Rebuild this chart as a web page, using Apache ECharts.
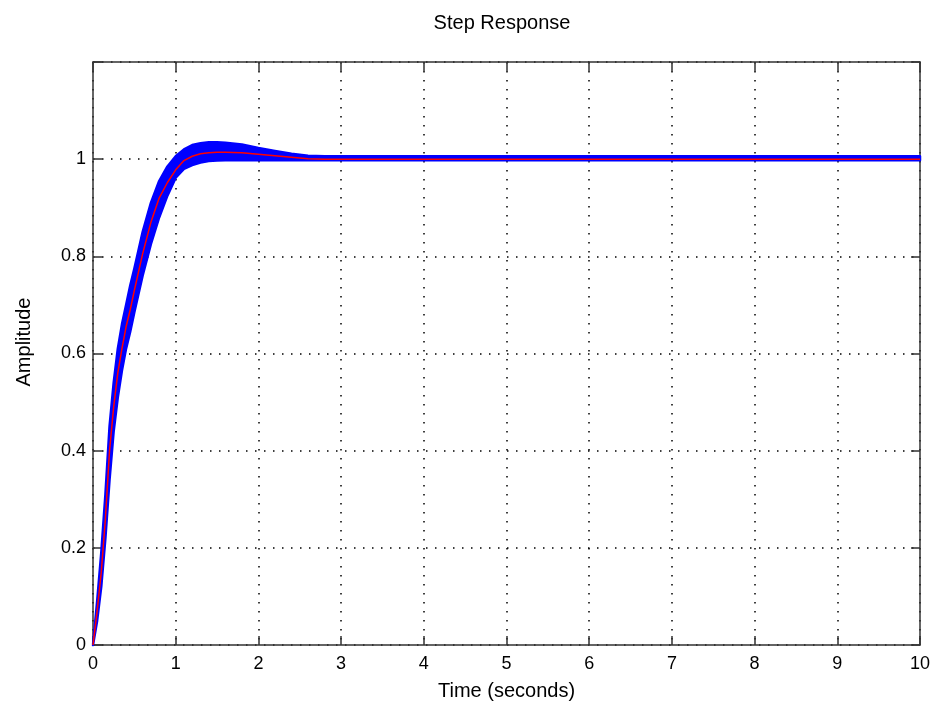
<!DOCTYPE html>
<html>
<head>
<meta charset="utf-8">
<script src="https://cdn.jsdelivr.net/npm/echarts@6/dist/echarts.min.js"></script>
<style>
html,body{margin:0;padding:0;background:#fff;}
#chart{width:935px;height:706px;}
</style>
</head>
<body>
<div id="chart"></div>
<script>
// Time samples (seconds)
var timeSec = [0, 0.05, 0.1, 0.15, 0.2, 0.25, 0.3, 0.35, 0.4, 0.45, 0.5, 0.6, 0.7, 0.8, 0.9, 1.0, 1.1, 1.2, 1.3, 1.4, 1.5, 1.6, 1.8, 2.0, 2.2, 2.4, 2.6, 2.8, 3.0, 4, 5, 6, 7, 8, 9, 10];
// Nominal response (red)
var nominal = [0, 0.07, 0.15, 0.26, 0.40, 0.49, 0.56, 0.61, 0.655, 0.69, 0.73, 0.805, 0.87, 0.92, 0.952, 0.978, 0.997, 1.006, 1.011, 1.013, 1.014, 1.014, 1.013, 1.010, 1.007, 1.004, 1.001, 1.0, 1.0, 1.0, 1.0, 1.0, 1.0, 1.0, 1.0, 1.0];
// Upper envelope of blue family
var upperEnv = [0, 0.09, 0.19, 0.31, 0.45, 0.54, 0.61, 0.66, 0.70, 0.74, 0.775, 0.85, 0.91, 0.955, 0.985, 1.006, 1.020, 1.029, 1.033, 1.035, 1.035, 1.034, 1.030, 1.023, 1.017, 1.011, 1.007, 1.006, 1.006, 1.006, 1.006, 1.006, 1.006, 1.006, 1.006, 1.006];
// Lower envelope of blue family
var lowerEnv = [0, 0.05, 0.12, 0.22, 0.34, 0.44, 0.51, 0.565, 0.61, 0.645, 0.685, 0.76, 0.825, 0.88, 0.925, 0.962, 0.980, 0.988, 0.993, 0.996, 0.997, 0.998, 0.998, 0.998, 0.998, 0.998, 0.998, 0.998, 0.998, 0.998, 0.998, 0.998, 0.998, 0.998, 0.998, 0.998];
// Tick settings
var xTicks = {min: 0, max: 10, step: 1};
var yTicks = {min: 0, max: 1.2, step: 0.2};

function pairs(ys) { return timeSec.map(function (t, i) { return [t, ys[i]]; }); }

var chart = echarts.init(document.getElementById('chart'), null, {renderer: 'canvas'});
var FONT = '"Liberation Sans", Arial, sans-serif';
var axisLineStyle = {color: '#333', width: 1.5};
var gridLine = {show: true, lineStyle: {color: '#000', width: 1.5, type: [1.5, 7.5]}};

chart.setOption({
  backgroundColor: '#ffffff',
  animation: false,
  title: {
    text: 'Step Response', left: 497, top: 8, textAlign: 'center',
    textStyle: {fontFamily: FONT, fontSize: 20, fontWeight: 'normal', color: '#000'}
  },
  grid: {left: 93, right: 15, top: 62, bottom: 58, show: false},
  graphic: [{
    type: 'text', x: 24, y: 342, rotation: Math.PI / 2,
    style: {text: 'Amplitude', fontFamily: FONT, fontSize: 20, fill: '#000', textAlign: 'center', textVerticalAlign: 'middle'}
  }],
  xAxis: [{
    type: 'value', min: xTicks.min, max: xTicks.max, interval: xTicks.step,
    name: 'Time (seconds)', nameLocation: 'middle', nameGap: 36,
    nameTextStyle: {fontFamily: FONT, fontSize: 20, color: '#000'},
    axisLine: {show: true, onZero: false, lineStyle: axisLineStyle},
    axisTick: {show: true, inside: true, length: 9, lineStyle: axisLineStyle},
    axisLabel: {fontFamily: FONT, fontSize: 18, color: '#000', margin: 10},
    splitLine: gridLine
  }, {
    type: 'value', position: 'top', min: xTicks.min, max: xTicks.max, interval: xTicks.step,
    axisLine: {show: true, onZero: false, lineStyle: axisLineStyle},
    axisTick: {show: true, inside: true, length: 9, lineStyle: axisLineStyle},
    axisLabel: {show: false}, splitLine: {show: false}
  }],
  yAxis: [{
    type: 'value', min: yTicks.min, max: yTicks.max, interval: yTicks.step,
    axisLine: {show: true, onZero: false, lineStyle: axisLineStyle},
    axisTick: {show: true, inside: true, length: 9, lineStyle: axisLineStyle},
    axisLabel: {
      fontFamily: FONT, fontSize: 18, color: '#000', margin: 7,
      formatter: function (v) { return Math.abs(v - 1.2) < 1e-9 ? '' : String(+v.toFixed(1)); }
    },
    splitLine: gridLine
  }, {
    type: 'value', position: 'right', min: yTicks.min, max: yTicks.max, interval: yTicks.step,
    axisLine: {show: true, onZero: false, lineStyle: axisLineStyle},
    axisTick: {show: true, inside: true, length: 9, lineStyle: axisLineStyle},
    axisLabel: {show: false}, splitLine: {show: false}
  }],
  series: [
    {
      type: 'custom', name: 'band', data: [[0, 0]], z: 2,
      renderItem: function (params, api) {
        var pts = [];
        for (var i = 0; i < timeSec.length; i++) pts.push(api.coord([timeSec[i], upperEnv[i]]));
        for (var j = timeSec.length - 1; j >= 0; j--) pts.push(api.coord([timeSec[j], lowerEnv[j]]));
        return {type: 'polygon', shape: {points: pts}, style: {fill: '#0000ff', stroke: '#0000ff', lineWidth: 2.5, lineJoin: 'round'}};
      }
    },
    {
      type: 'line', name: 'nominal', data: pairs(nominal), symbol: 'none',
      lineStyle: {color: '#ff0000', width: 1.5}, z: 3
    }
  ]
});
</script>
</body>
</html>
